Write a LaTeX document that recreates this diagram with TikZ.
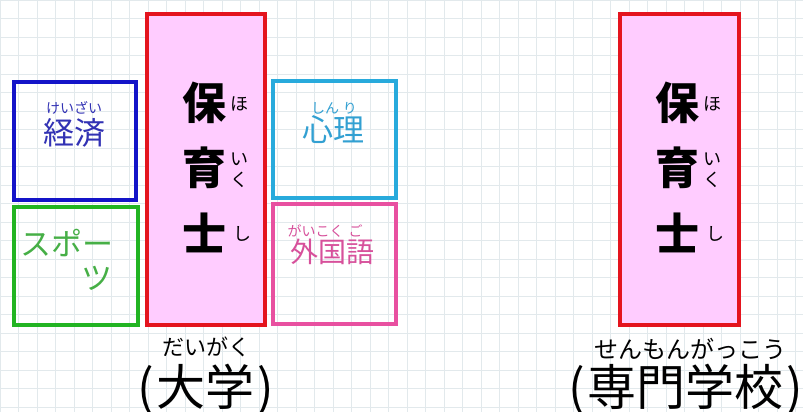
\documentclass[tikz,border=0pt]{standalone}
\usepackage{fontspec}
\newfontfamily\cjk{Noto Sans CJK JP}
\definecolor{gridc}{RGB}{226,233,236}
\definecolor{hpink}{RGB}{255,204,255}
\definecolor{hred}{RGB}{228,20,30}
\definecolor{kblue}{RGB}{20,20,200}
\definecolor{ktblue}{RGB}{50,50,180}
\definecolor{sgreen}{RGB}{34,180,34}
\definecolor{stgreen}{RGB}{70,175,70}
\definecolor{scyan}{RGB}{40,170,220}
\definecolor{stcyan}{RGB}{50,160,210}
\definecolor{gpink}{RGB}{232,80,160}
\definecolor{gtpink}{RGB}{215,80,155}
\tikzset{
  box/.style={draw, line width=3.6pt, inner sep=0pt, anchor=north west},
  big/.style={font=\cjk\fontsize{31}{31}\selectfont, inner sep=0pt},
  ruby/.style={font=\cjk\fontsize{14}{14}\selectfont, inner sep=0pt},
  hoiku/.style={font=\cjk\bfseries\fontsize{44}{44}\selectfont, inner sep=0pt},
  hruby/.style={font=\cjk\fontsize{18}{18}\selectfont, inner sep=0pt},
  captext/.style={font=\cjk\fontsize{49}{49}\selectfont, inner sep=0pt},
}
\begin{document}
\begin{tikzpicture}[x=1pt,y=-1pt]
\useasboundingbox (0,0) rectangle (803,412);
\fill[white] (0,0) rectangle (803,412);
\foreach \gx in {0,18.5,...,803}{\draw[gridc, line width=0.7pt] (\gx,0) -- (\gx,412);}
\foreach \gy in {0,18.5,...,412}{\draw[gridc, line width=0.7pt] (0,\gy) -- (803,\gy);}
% boxes
\node[box, kblue, minimum width=122pt, minimum height=118pt] (keizai) at (12,80) {};
\node[box, sgreen, minimum width=124pt, minimum height=118pt] (sports) at (12,205) {};
\node[box, hred, fill=hpink, minimum width=118pt, minimum height=311pt] (hoiku1) at (145,12) {};
\node[box, scyan, minimum width=123pt, minimum height=117pt] (shinri) at (271,79) {};
\node[box, gpink, minimum width=123pt, minimum height=120pt] (gaikoku) at (271,202) {};
\node[box, hred, fill=hpink, minimum width=119pt, minimum height=311pt] (hoiku2) at (618,12) {};
% texts
\node[ruby, ktblue] (keizair) at (74,108) {けいざい};
\node[big, ktblue] (keizait) at (74,133) {経済};
\node[ruby, stcyan] (shinrir) at (334,108) {しん\hspace{4pt}り};
\node[big, stcyan] (shinrit) at (333,130) {心理};
\node[big, stgreen] (spo) at (67,243) {スポー};
\node[big, stgreen] (tsu) at (97,278) {ツ};
\node[ruby, gtpink] (gair) at (325,231) {がいこく\hspace{5pt}ご};
\node[font=\cjk\fontsize{28}{28}\selectfont, inner sep=0pt, gtpink] (gait) at (332,252) {外国語};
% hoikushi
\foreach \dx/\nm in {0/a,473/b}{
  \node[hoiku] (ho\nm) at (204+\dx,103) {保};
  \node[hoiku] (iku\nm) at (204+\dx,168) {育};
  \node[hoiku] (shi\nm) at (204+\dx,233) {士};
  \node[hruby] (hor\nm) at (239+\dx,104) {ほ};
  \node[hruby] (ir\nm) at (239+\dx,159) {い};
  \node[hruby] (kur\nm) at (239+\dx,180) {く};
  \node[hruby] (shir\nm) at (242+\dx,234) {し};
}
% captions
\node[font=\cjk\fontsize{22}{22}\selectfont, inner sep=0pt] (daigakur) at (206,347) {だいがく};
\node[captext, anchor=base] (daigaku) at (206,405) {(\hspace{3pt}大学\hspace{3pt})};
\node[font=\cjk\fontsize{24}{24}\selectfont, inner sep=0pt] (senmonr) at (690,349) {せんもんがっこう};
\node[captext, anchor=base west] (senmon) at (568,405) {(\hspace{3pt}専門学校\hspace{3pt})};
\end{tikzpicture}
\end{document}
